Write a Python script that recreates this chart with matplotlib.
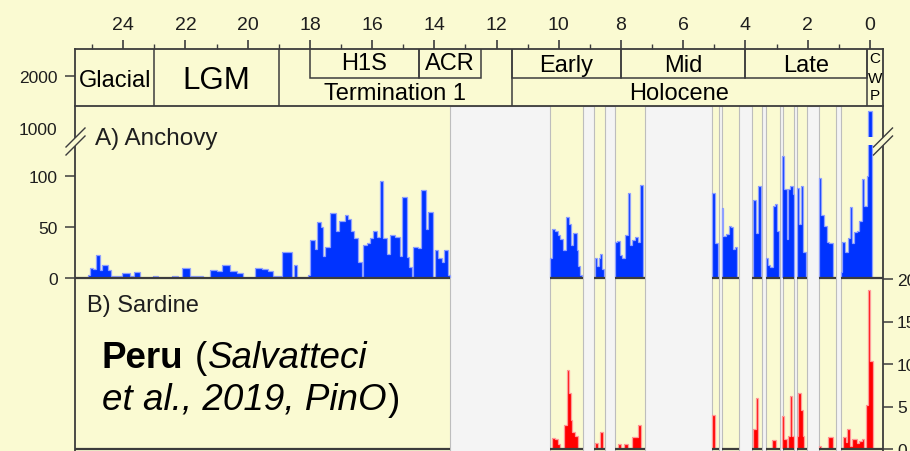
import numpy as np
import matplotlib
matplotlib.use("Agg")
import matplotlib.pyplot as plt
from matplotlib.lines import Line2D
from matplotlib.patches import Polygon

plt.rcParams['font.family'] = ['Liberation Sans', 'DejaVu Sans']

# ---------------- data ----------------
age_ticks_major = [24, 22, 20, 18, 16, 14, 12, 10, 8, 6, 4, 2, 0]
age_ticks_minor = [25, 23, 21, 19, 17, 15, 13, 11, 9, 7, 5, 3, 1]

main_names = ['Glacial', 'LGM', 'Termination 1', 'Holocene']
main_old = [25.55, 23.0, 19.0, 11.5]
main_young = [23.0, 19.0, 11.5, 0.1]
sub_names = ['H1S', 'ACR', 'Early', 'Mid', 'Late']
sub_old = [18.0, 14.5, 11.5, 8.0, 4.0]
sub_young = [14.5, 12.5, 8.0, 4.0, 0.1]
cwp_letters = ['C', 'W', 'P']

# no-data intervals (ka)
gap_old = [13.50, 9.23, 8.50, 7.23, 4.84, 4.22, 3.48, 2.90, 2.43, 2.03, 1.09]
gap_young = [10.29, 8.86, 8.20, 5.08, 4.76, 3.79, 3.34, 2.81, 2.36, 1.64, 0.93]

nan = np.nan
# A) Anchovy scales (bin edges in ka, values per bin)
anch_edges = [25.14, 25.07, 24.97, 24.89, 24.75, 24.68, 24.50, 24.40, 24.33, 24.05,
              23.79, 23.66, 23.47, 23.05, 22.89, 22.44, 22.24, 22.12, 21.86, 21.44,
              21.22, 20.99, 20.83, 20.57, 20.35, 20.15, 19.77, 19.54, 19.35, 19.19,
              18.93, 18.90, 18.58, 18.52, 18.42, 18.06, 18.00, 17.84, 17.78, 17.65,
              17.58, 17.52, 17.36, 17.17, 17.07, 16.88, 16.78, 16.68, 16.59, 16.46,
              16.33, 16.30, 16.17, 16.07, 15.98, 15.85, 15.75, 15.65, 15.53, 15.43,
              15.27, 15.11, 15.04, 14.88, 14.80, 14.72, 14.69, 14.53, 14.43, 14.27,
              14.21, 14.05, 13.98, 13.89, 13.76, 13.69, 13.56, 13.50,
              10.29, 10.23, 10.13, 10.03, 9.96, 9.87, 9.78, 9.68, 9.61, 9.54, 9.43, 9.38, 9.32, 9.26,
              8.84, 8.78, 8.71, 8.66, 8.60, 8.55,
              8.20, 8.12, 8.04, 7.96, 7.88, 7.79, 7.71, 7.65, 7.55, 7.47, 7.39, 7.29,
              5.07, 4.98, 4.88,
              4.76, 4.71, 4.63, 4.53, 4.47, 4.39, 4.34, 4.28,
              3.75, 3.67, 3.59, 3.50,
              3.34, 3.29, 3.21, 3.11, 3.05, 3.00, 2.93,
              2.82, 2.75, 2.68, 2.63, 2.56, 2.48, 2.43,
              2.36, 2.28, 2.22, 2.14, 2.07,
              1.64, 1.58, 1.48, 1.39, 1.32, 1.18,
              0.93, 0.89, 0.80, 0.72, 0.64, 0.57, 0.50, 0.43, 0.35, 0.27, 0.18, 0.11, 0.05, -0.07]
anch_vals = [3, 9.5, 9, 22.5, 8, 12.8, 7.8, 2.4, 2.4, 4.9,
             1.7, 6.2, 0, 2.4, 0, 2.4, 0, 9.5, 2.4, 0,
             7.8, 7.2, 12.8, 7.2, 4.5, 0, 10, 8.8, 7.2, 2.4,
             0, 25.1, 0, 13, 0, 3, 37.5, 28.4, 54.4, 49.5,
             21.2, 30, 63.5, 46.3, 56, 61.6, 57.7, 46.3, 38.8, 15.3,
             0, 32.2, 34.2, 38.8, 46.3, 39.8, 95, 38.8, 23.5, 42,
             39.8, 21.8, 78.8, 20.2, 10.4, 0, 30, 29, 86.3, 48,
             64.8, 0, 27.7, 19.2, 15.3, 27.7, 3,
             nan,
             19.7, 47.5, 45.6, 41.7, 38.4, 27, 59.6, 53, 32, 44.3, 27, 11.7, 3.3,
             nan,
             19.7, 11.6, 19.7, 23.6, 9.2,
             nan,
             35.2, 35.8, 22.1, 19.5, 41.7, 83.4, 32, 36.8, 40.1, 35.2, 90.5,
             nan,
             83.1, 34.2,
             nan,
             68, 40.7, 43, 51, 49.5, 28.3, 30,
             nan,
             76.6, 44, 89.6,
             nan,
             19.2, 12.7, 10.4, 70.7, 72.3, 46.3,
             nan,
             119, 87, 38, 87, 89.6, 82,
             nan,
             87.6, 52.8, 89.6, 25,
             nan,
             97.4, 61.6, 51, 34.8, 34.2,
             nan,
             5.5, 35.5, 25.7, 38.8, 69.1, 34.2, 44.6, 46.3, 56, 96.8, 70.7, 99.4, 1330]

# B) Sardine scales
sard_edges = [10.22, 10.13, 10.04, 9.96, 9.83, 9.75, 9.67, 9.61, 9.56, 9.48, 9.39,
              8.84, 8.75, 8.68, 8.57,
              8.11, 8.00, 7.90, 7.79, 7.64, 7.47, 7.37,
              5.07, 4.98,
              3.75, 3.66, 3.59,
              3.16, 3.03,
              2.82, 2.75, 2.68, 2.63, 2.57, 2.50, 2.44,
              2.36, 2.30, 2.23, 2.16, 2.11,
              1.64, 1.58, 1.36, 1.18,
              0.86, 0.78, 0.74, 0.64, 0.59, 0.43, 0.35, 0.27, 0.19, 0.14, 0.07, 0.00, -0.11]
sard_vals = [1.25, 1.15, 0.6, 0, 2.8, 9.3, 6.6, 3.45, 1.95, 1.55,
             nan,
             0.65, 0, 2.0,
             nan,
             0.6, 0, 0.6, 0, 1.4, 2.8,
             nan,
             4.0,
             nan,
             2.35, 5.96,
             nan,
             1.06,
             nan,
             3.84, 1.18, 0, 1.57, 6.2, 1.57,
             nan,
             1.57, 6.6, 4.6, 1.57,
             nan,
             0.4, 0, 1.37,
             nan,
             1.37, 0.86, 2.35, 0.3, 1.2, 0.7, 1.0, 1.2, 0, 5.2, 18.7, 10.3]

anch_ticks_low = [0, 50, 100]
anch_ticks_high = [1000, 2000]
sard_ticks = [0, 5, 10, 15, 20]

# ---------------- style ----------------
W, H = 910, 452
BG = '#FAFAD2'
GAP = '#F4F4F4'
GAP_EDGE = '#BDBDBD'
LC = '#3C3C3C'
TXT = '#1E1E1E'
BLUE = '#0033FF'
BLUE_EDGE = '#8FA0FF'
RED = '#FF0000'
RED_EDGE = '#FF9A9A'
XL = (25.55, -0.42)

fig = plt.figure(figsize=(W / 100, H / 100), dpi=100, facecolor=BG)


def add_ax(x0, y0, x1, y1, z):
    ax = fig.add_axes([x0 / W, 1 - y1 / H, (x1 - x0) / W, (y1 - y0) / H], zorder=z)
    ax.set_xlim(*XL)
    return ax


def fxy(x, y):
    return (x / W, 1 - y / H)


# background panel with gaps
ax_bg = add_ax(75, 107, 883, 470, 0)
ax_bg.set_facecolor(BG)
ax_bg.set_ylim(0, 1)
for s in ['top', 'bottom']:
    ax_bg.spines[s].set_visible(False)
for s in ['left', 'right']:
    ax_bg.spines[s].set_color(LC)
    ax_bg.spines[s].set_linewidth(1.3)
ax_bg.set_xticks([])
ax_bg.set_yticks([])
for o, y in zip(gap_old, gap_young):
    ax_bg.axvspan(y, o, facecolor=GAP, edgecolor=GAP_EDGE, lw=0.8)

# header with periods
ax_hd = add_ax(75, 50, 883, 107, 1)
ax_hd.set_facecolor(BG)
ax_hd.set_ylim(0, 2)
for s in ax_hd.spines.values():
    s.set_color(LC)
    s.set_linewidth(1.3)
ax_hd.set_yticks([])
ax_hd.xaxis.set_ticks_position('top')
ax_hd.set_xticks(age_ticks_major)
ax_hd.set_xticks(age_ticks_minor, minor=True)
ax_hd.set_xticklabels([str(t) for t in age_ticks_major])
ax_hd.tick_params(axis='x', which='major', direction='out', length=6.7, width=1.2,
                  color=LC, pad=5, labelsize=14, labelcolor=TXT,
                  top=True, bottom=False, labeltop=True, labelbottom=False)
ax_hd.tick_params(axis='x', which='minor', direction='out', length=3.5, width=1.0,
                  color=LC, top=True, bottom=False)
ax_hd.vlines(main_old[1:] + [main_young[-1]], 0, 2, color=LC, lw=1.1)
for o, y in zip(sub_old, sub_young):
    ax_hd.plot([o, o, y, y], [2, 1, 1, 2], color=LC, lw=1.1, solid_joinstyle='miter')

main_style = {'Glacial': (None, 0.70, 17), 'LGM': (None, 0.63, 22.5),
              'Termination 1': (None, 0.25, 17), 'Holocene': (6.15, 0.25, 17)}
for n, o, y in zip(main_names, main_old, main_young):
    xo, yy, fs = main_style[n]
    xc = (o + y) / 2 if xo is None else xo
    ax_hd.text(xc, yy, n, ha='center', va='baseline', fontsize=fs, color='black')
for n, o, y in zip(sub_names, sub_old, sub_young):
    yy = 1.30 if o > 12 else 1.22
    ax_hd.text((o + y) / 2, yy, n, ha='center', va='baseline', fontsize=17, color='black')
cwp_x = (main_young[-1] + XL[1]) / 2
for letter, yy in zip(cwp_letters, [1.54, 0.84, 0.25]):
    ax_hd.text(cwp_x, yy, letter, ha='center', va='baseline', fontsize=11, color='black')

# column baselines
col_old = np.array([XL[0]] + gap_young)
col_young = np.array(gap_old + [XL[1]])
col_zero = np.zeros(len(col_old))


def draw_bars(ax, edges, vals, fc, ec):
    e = np.array(edges, float)
    v = np.array(vals, float)
    ax.stairs(v, e, fill=True, color=fc, lw=0, baseline=0)
    ax.stairs(v, e, fill=False, color=ec, lw=0.9, baseline=0)


# anchovy lower part
ax_lo = add_ax(75, 146, 883, 279, 3)
ax_lo.set_facecolor('none')
ax_lo.set_ylim(0, 130)
for s in ax_lo.spines.values():
    s.set_visible(False)
ax_lo.set_xticks([])
ax_lo.set_yticks(anch_ticks_low)
ax_lo.tick_params(axis='y', direction='out', length=7, width=1.1, color=LC, pad=5.5,
                  labelsize=12.5, labelcolor=TXT)
draw_bars(ax_lo, anch_edges, anch_vals, BLUE, BLUE_EDGE)
ax_lo.hlines(col_zero, col_young, col_old, color=LC, lw=1.6, zorder=5, clip_on=False)

# anchovy upper (broken) part
ax_up = add_ax(75, 50, 883, 138, 4)
ax_up.set_facecolor('none')
ax_up.set_ylim(827, 2519)
for s in ax_up.spines.values():
    s.set_visible(False)
ax_up.set_xticks([])
ax_up.set_yticks(anch_ticks_high)
ax_up.tick_params(axis='y', direction='out', length=7, width=1.1, color=LC, pad=5.5,
                  labelsize=12.5, labelcolor=TXT)
ax_up.yaxis.get_major_ticks()[0].tick1line.set_visible(False)
draw_bars(ax_up, anch_edges, anch_vals, BLUE, BLUE_EDGE)

# sardine
ax_sd = add_ax(75, 280, 883, 450, 3)
ax_sd.set_facecolor('none')
ax_sd.set_ylim(0, 20)
for s in ax_sd.spines.values():
    s.set_visible(False)
ax_sd.set_xticks([])
ax_sd.yaxis.tick_right()
ax_sd.set_yticks(sard_ticks)
ax_sd.tick_params(axis='y', direction='out', length=7, width=1.1, color=LC, pad=3,
                  labelsize=12.5, labelcolor=TXT, right=True, left=False,
                  labelright=True, labelleft=False)
draw_bars(ax_sd, sard_edges, sard_vals, RED, RED_EDGE)
ax_sd.hlines(col_zero, col_young, col_old, color=LC, lw=1.6, zorder=5, clip_on=False)

# axis break marks
for cx in (75.5, 883):
    x0, x1 = cx - 9.5, cx + 9.5
    up = [(x0, 148), (x1, 129)]
    lo = [(x0, 156), (x1, 137)]
    poly = Polygon([fxy(*p) for p in up + lo[::-1]], closed=True, transform=fig.transFigure,
                   facecolor=BG, edgecolor='none', zorder=20)
    fig.add_artist(poly)
    for seg in (up, lo):
        fig.add_artist(Line2D([fxy(*p)[0] for p in seg], [fxy(*p)[1] for p in seg],
                              transform=fig.transFigure, color=LC, lw=1.0, zorder=21))

# panel labels
fig.text(*fxy(95, 145), 'A) Anchovy', fontsize=17.5, va='baseline', ha='left', color=TXT, zorder=30)
fig.text(*fxy(87, 312), 'B) Sardine', fontsize=17, va='baseline', ha='left', color=TXT, zorder=30)

renderer = fig.canvas.get_renderer()


def rich_line(x_px, y_px, parts, size):
    x = x_px
    for s, kw in parts:
        if s == ' ':
            x += 0.278 * size * 100 / 72
            continue
        t = fig.text(*fxy(x, y_px), s, fontsize=size, va='baseline', ha='left',
                     color='black', zorder=30, **kw)
        bb = t.get_window_extent(renderer=renderer)
        x = bb.x1 + 1


rich_line(102, 368, [('Peru', {'fontweight': 'bold'}), (' ', None), ('(', {}),
                     ('Salvatteci', {'fontstyle': 'italic'})], 26.5)
rich_line(102, 410, [('et al., 2019, PinO', {'fontstyle': 'italic'}), (')', {})], 26.5)

fig.savefig('out.png', dpi=100, facecolor=BG)
